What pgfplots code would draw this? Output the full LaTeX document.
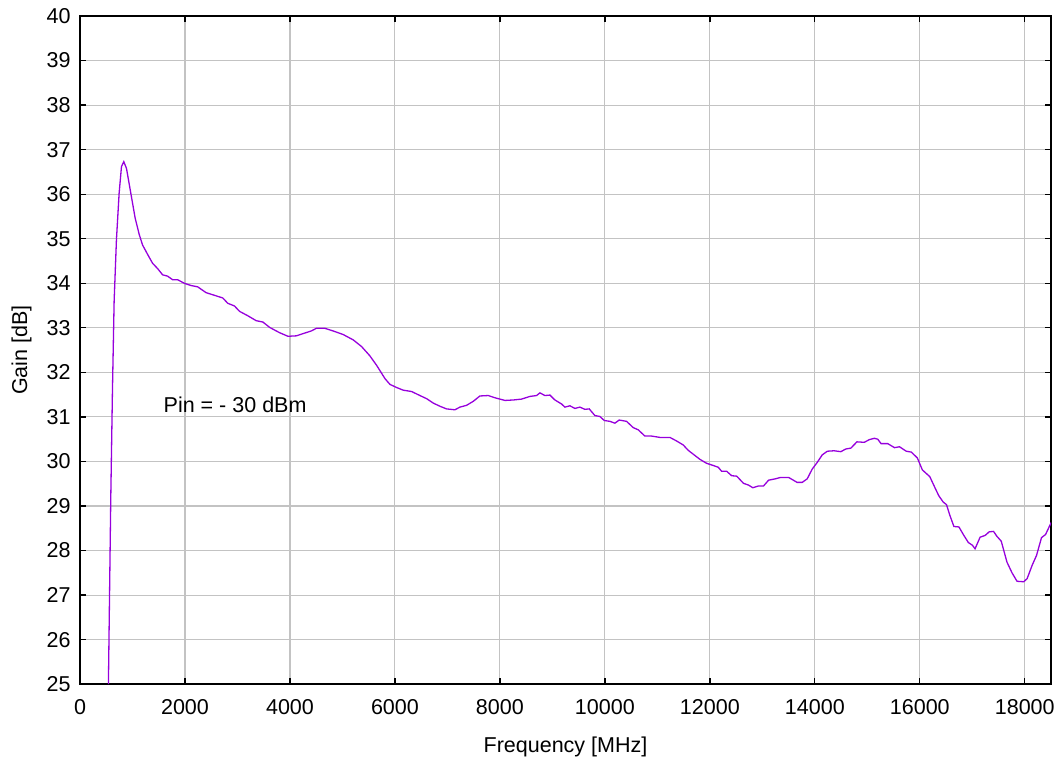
\documentclass[border=0pt]{standalone}
\usepackage{pgfplots}
\pgfplotsset{compat=1.18}
\usepackage{fontspec}
\setmainfont{Liberation Sans}
\definecolor{curve}{RGB}{150,0,220}
\definecolor{gridgray}{RGB}{195,195,195}
\begin{document}
\begin{tikzpicture}
\useasboundingbox (-80pt,-76pt) rectangle (978.7pt,684pt);
\begin{axis}[
  scale only axis,
  width=970.7pt, height=668pt,
  xmin=0, xmax=18500, ymin=25, ymax=40,
  xtick={0,2000,...,18000}, ytick={25,26,...,40},
  scaled ticks=false,
  xticklabel={\pgfmathprintnumber[fixed,precision=0]{\tick}},
  grid=major,
  major grid style={gridgray, line width=1.1pt},
  axis line style={black, line width=1.6pt},
  tick style={black, line width=1.3pt},
  tick align=inside, major tick length=6pt,
  font=\fontsize{21.5}{25}\selectfont,
  /pgf/number format/assume math mode=true,
  /pgf/number format/set thousands separator={},
  xticklabel style={yshift=-12pt},
  yticklabel style={xshift=-6pt},
  xlabel={Frequency [MHz]},
  ylabel={Gain [dB]},
  xlabel style={at={(axis description cs:0.5,-0.1018)}, anchor=base},
  ylabel style={at={(axis description cs:-0.0546,0.5)}, anchor=base},
  clip=true,
]
\addplot[curve, line width=1.3pt] coordinates {
(541,25) (586,29.19) (618,31.6) (650,33.6) (694,34.98) (745,36.02) (790,36.62)
(834,36.73) (885,36.58) (968,36.02) (1051,35.46) (1127,35.10) (1191,34.86)
(1287,34.65) (1382,34.45) (1478,34.33) (1573,34.19) (1669,34.16) (1764,34.08)
(1860,34.08) (1987,34.0) (2115,33.95) (2242,33.92) (2401,33.79) (2561,33.73)
(2720,33.67) (2816,33.55) (2943,33.49) (3039,33.37) (3198,33.27) (3357,33.16)
(3484,33.13) (3612,33.01) (3803,32.89) (3962,32.81) (4121,32.82) (4249,32.87)
(4408,32.93) (4504,32.99) (4663,32.99) (4822,32.93) (5013,32.85) (5204,32.73)
(5364,32.58) (5523,32.37) (5650,32.16) (5810,31.86) (5905,31.73) (6032,31.66)
(6159,31.60) (6318,31.57) (6476,31.48) (6603,31.41) (6730,31.31) (6857,31.24)
(6984,31.18) (7143,31.16) (7238,31.22) (7365,31.26) (7492,31.35) (7619,31.47)
(7778,31.48) (7905,31.43) (8096,31.37) (8254,31.38) (8413,31.40) (8572,31.46)
(8699,31.48) (8762,31.54) (8857,31.48) (8953,31.49) (9048,31.38) (9175,31.29)
(9238,31.22) (9334,31.25) (9429,31.19) (9524,31.22) (9619,31.17) (9702,31.18)
(9810,31.03) (9905,31.01) (9988,30.92) (10096,30.90) (10191,30.86) (10273,30.93)
(10413,30.90) (10540,30.76) (10636,30.71) (10763,30.57) (10890,30.57) (11048,30.54)
(11239,30.54) (11366,30.46) (11493,30.37) (11588,30.25) (11808,30.05) (11936,29.96)
(12064,29.91) (12160,29.87) (12224,29.78) (12320,29.78) (12416,29.68) (12512,29.67)
(12640,29.51) (12736,29.47) (12819,29.41) (12927,29.45) (13023,29.45) (13119,29.58)
(13247,29.61) (13343,29.64) (13503,29.64) (13663,29.53) (13759,29.53) (13855,29.61)
(13951,29.83) (14047,29.98) (14143,30.15) (14239,30.23) (14367,30.24) (14495,30.22)
(14591,30.28) (14687,30.30) (14802,30.44) (14943,30.43) (15038,30.49) (15134,30.52)
(15198,30.50) (15262,30.40) (15390,30.40) (15518,30.31) (15614,30.33) (15742,30.23)
(15838,30.21) (15953,30.08) (16049,29.81) (16190,29.66) (16285,29.42) (16362,29.23)
(16445,29.09) (16509,29.03) (16573,28.79) (16650,28.54) (16746,28.53) (16829,28.36)
(16925,28.18) (17002,28.12) (17053,28.04) (17149,28.30) (17245,28.34) (17322,28.42)
(17405,28.43) (17469,28.32) (17552,28.21) (17661,27.74) (17757,27.50) (17853,27.31)
(17981,27.30) (18045,27.37) (18141,27.67) (18224,27.89) (18319,28.29) (18396,28.36)
(18492,28.60) (18500,28.63)
};
\node[anchor=base west, inner sep=0pt] at (axis cs:1590,31.11) {Pin = - 30 dBm};
\end{axis}
\end{tikzpicture}
\end{document}
